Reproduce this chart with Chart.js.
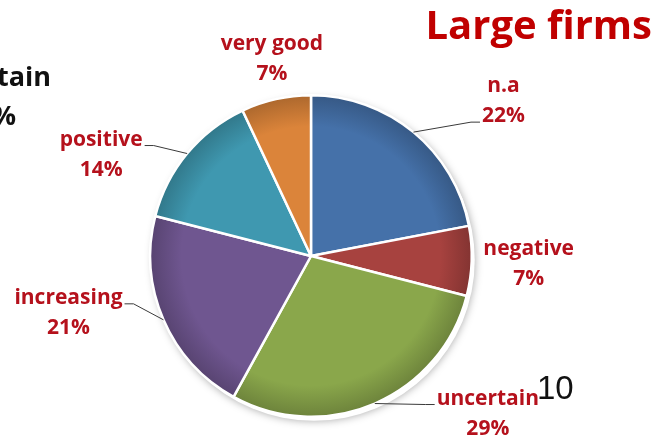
<!DOCTYPE html>
<html>
<head>
<meta charset="utf-8">
<script src="https://cdn.jsdelivr.net/npm/chart.js@4.4.1/dist/chart.umd.min.js"></script>
<style>
  body { margin: 0; background: #fff; }
  #wrap { width: 664px; height: 448px; }
</style>
</head>
<body>
<div id="wrap"><canvas id="pieChart" width="664" height="448"></canvas></div>
<script>
// data
const sliceLabels = ['n.a', 'negative', 'uncertain', 'increasing', 'positive', 'very good'];
const sliceValues = [22, 7, 29, 21, 14, 7];
const sliceColors = ['#4571A9', '#A7423F', '#8AA74B', '#6F5690', '#3F98B0', '#DB843A'];

// where each label sits, relative to the slice's outer mid point
const labelOffset = [[90, -31], [57, 3], [113, 10], [-95, -7], [-86, 1], [-4, -40]];
// which text line the leader goes to (null = no leader)
const leaderLine = [1, null, 0, 0, 0, null];

const labelRed = '#B5111C';
const labelFont = 'bold 21px "Open Sans"';

function darken(hex, f) {
	let n = parseInt(hex.slice(1), 16);
	let r = Math.round(((n >> 16) & 255) * f), g = Math.round(((n >> 8) & 255) * f), b = Math.round((n & 255) * f);
	return 'rgb(' + r + ',' + g + ',' + b + ')';
}

const sliceLabelPlugin = {
	id: 'sliceLabels',
	beforeDatasetsDraw(chart) {
		const ctx = chart.ctx;
		const arc = chart.getDatasetMeta(0).data[0];
		if (!arc) return;
		const p = arc.getProps(['x', 'y', 'outerRadius']);
		ctx.save();
		ctx.beginPath();
		ctx.arc(p.x + 3, p.y + 4, p.outerRadius, 0, Math.PI * 2);
		ctx.fillStyle = '#fff';
		ctx.shadowColor = 'rgba(0,0,0,0.35)';
		ctx.shadowBlur = 8;
		ctx.fill();
		ctx.restore();
	},
	afterDatasetsDraw(chart) {
		const ctx = chart.ctx;
		const meta = chart.getDatasetMeta(0);
		ctx.save();
		ctx.font = labelFont;
		ctx.textAlign = 'center';
		ctx.textBaseline = 'middle';
		meta.data.forEach(function(el, i) {
			const p = el.getProps(['x', 'y', 'startAngle', 'endAngle', 'outerRadius']);
			const mid = (p.startAngle + p.endAngle) / 2;
			const ex = p.x + Math.cos(mid) * p.outerRadius;
			const ey = p.y + Math.sin(mid) * p.outerRadius;
			const lx = ex + labelOffset[i][0];
			const ly = ey + labelOffset[i][1];
			const lines = [sliceLabels[i], sliceValues[i] + '%'];
			const lineY = [ly - 15, ly + 15];
			ctx.fillStyle = labelRed;
			lines.forEach(function(t, k) { ctx.fillText(t, lx, lineY[k]); });
			if (leaderLine[i] !== null) {
				const k = leaderLine[i];
				const w = ctx.measureText(lines[k]).width;
				const left = labelOffset[i][0] < 0;
				const endX = left ? lx + w / 2 + 2 : lx - w / 2 - 2;
				const endY = lineY[k] + 6;
				const elbowX = left ? endX + 9 : endX - 9;
				ctx.beginPath();
				ctx.moveTo(ex, ey);
				ctx.lineTo(elbowX, endY);
				ctx.lineTo(endX, endY);
				ctx.strokeStyle = '#3a3a3a';
				ctx.lineWidth = 1;
				ctx.stroke();
			}
		});

		// slide title and the bits of text around the chart
		ctx.fillStyle = '#C00000';
		ctx.font = 'bold 40px "Open Sans"';
		ctx.textAlign = 'right';
		ctx.textBaseline = 'alphabetic';
		ctx.fillText('Large firms', 652, 39);
		ctx.fillStyle = '#111';
		ctx.font = 'bold 27px "Open Sans"';
		ctx.fillText('uncertain', 51, 86);
		ctx.fillText('29%', 16, 125);
		ctx.font = '33px "Liberation Sans"';
		ctx.textAlign = 'left';
		ctx.fillText('10', 537, 399);
		ctx.restore();
	}
};

const ctx = document.getElementById('pieChart');
const theChart = new Chart(ctx, {
	type: 'pie',
	data: {
		labels: sliceLabels,
		datasets: [{
			data: sliceValues,
			backgroundColor: function(c) {
				const color = sliceColors[c.dataIndex];
				const area = c.chart.chartArea;
				if (!area) return color;
				const cx = (area.left + area.right) / 2, cy = (area.top + area.bottom) / 2;
				const r = Math.min(area.width, area.height) / 2;
				const g = c.chart.ctx.createRadialGradient(cx, cy, 0, cx, cy, r);
				g.addColorStop(0, color);
				g.addColorStop(0.8, color);
				g.addColorStop(1, darken(color, 0.78));
				return g;
			},
			borderColor: '#ffffff',
			borderWidth: 2.5
		}]
	},
	options: {
		responsive: false,
		animation: false,
		layout: { padding: { left: 146, right: 188, top: 94, bottom: 30 } },
		plugins: {
			legend: { display: false },
			tooltip: { enabled: false }
		}
	},
	plugins: [sliceLabelPlugin]
});
</script>
</body>
</html>
